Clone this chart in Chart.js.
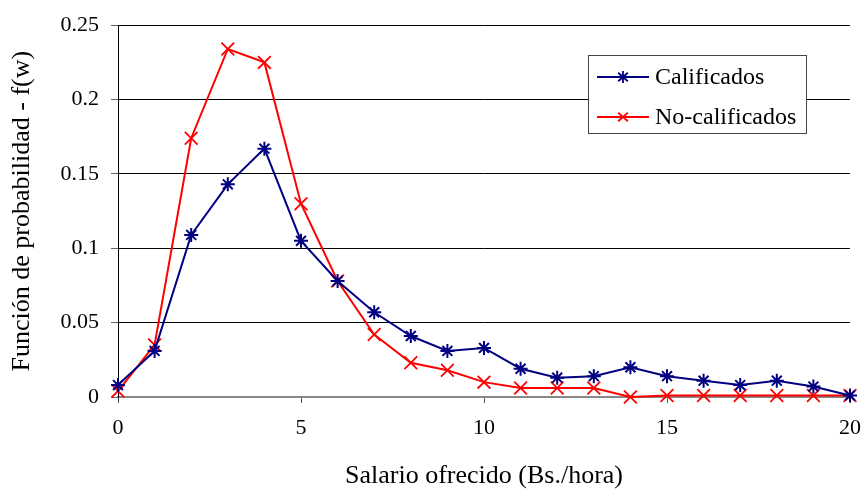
<!DOCTYPE html>
<html>
<head>
<meta charset="utf-8">
<script src="https://cdn.jsdelivr.net/npm/chart.js@4/dist/chart.umd.min.js"></script>
<style>
  html, body { margin: 0; padding: 0; background: #fff; }
  #wrap { width: 864px; height: 489px; }
</style>
</head>
<body>
<div id="wrap"><canvas id="c" width="864" height="489"></canvas></div>
<script>
const salario = [0, 1, 2, 3, 4, 5, 6, 7, 8, 9, 10, 11, 12, 13, 14, 15, 16, 17, 18, 19, 20];
const calificados = [0.008, 0.031, 0.109, 0.143, 0.167, 0.105, 0.078, 0.057, 0.041, 0.031, 0.033, 0.019, 0.013, 0.014, 0.020, 0.014, 0.011, 0.008, 0.011, 0.007, 0.001];
const noCalificados = [0.004, 0.035, 0.174, 0.234, 0.225, 0.130, 0.078, 0.042, 0.023, 0.018, 0.010, 0.006, 0.006, 0.006, 0.000, 0.001, 0.001, 0.001, 0.001, 0.001, 0.001];
const seriesNames = ['Calificados', 'No-calificados'];
const yTicks = [0, 0.05, 0.1, 0.15, 0.2, 0.25];

const serif = "'Liberation Serif', 'Times New Roman', serif";

function toPoints(vals) {
  return salario.map((x, i) => ({ x: x, y: vals[i] }));
}

// keep the plot area (and the gridlines) ending where the x axis ends
const trimArea = {
  id: 'trimArea',
  afterLayout(chart) {
    const xs = chart.scales.x;
    const right = xs.getPixelForValue(xs.max);
    chart.chartArea.right = right;
    chart.chartArea.width = right - chart.chartArea.left;
  }
};

// legend box drawn by hand, like the Excel one
const boxLegend = {
  id: 'boxLegend',
  afterDraw(chart) {
    const ctx = chart.ctx;
    const x = 588, y = 55, w = 218, h = 78;
    ctx.save();
    ctx.fillStyle = '#fff';
    ctx.fillRect(x, y, w, h);
    ctx.strokeStyle = '#444';
    ctx.lineWidth = 1;
    ctx.strokeRect(x + 0.5, y + 0.5, w, h);
    ctx.font = '24px ' + serif;
    ctx.textBaseline = 'middle';
    chart.data.datasets.forEach((ds, i) => {
      const cy = y + 22 + i * 40;
      ctx.strokeStyle = ds.borderColor;
      ctx.lineWidth = 1.8;
      ctx.beginPath();
      ctx.moveTo(x + 9, cy);
      ctx.lineTo(x + 61, cy);
      ctx.stroke();
      const r = 6;
      ctx.beginPath();
      ctx.moveTo(x + 35 - r * 0.8, cy - r * 0.7);
      ctx.lineTo(x + 35 + r * 0.8, cy + r * 0.7);
      ctx.moveTo(x + 35 + r * 0.8, cy - r * 0.7);
      ctx.lineTo(x + 35 - r * 0.8, cy + r * 0.7);
      if (i === 0) {
        ctx.moveTo(x + 35, cy - r);
        ctx.lineTo(x + 35, cy + r);
      }
      ctx.stroke();
      ctx.fillStyle = '#000';
      ctx.fillText(ds.label, x + 67, cy + 1);
    });
    ctx.restore();
  }
};

new Chart(document.getElementById('c'), {
  type: 'line',
  data: {
    datasets: [
      {
        label: seriesNames[0],
        data: toPoints(calificados),
        borderColor: '#000080',
        backgroundColor: '#000080',
        borderWidth: 2,
        pointStyle: 'star',
        pointRadius: 7,
        pointBorderWidth: 2,
        tension: 0,
        clip: false
      },
      {
        label: seriesNames[1],
        data: toPoints(noCalificados),
        borderColor: '#ff0000',
        backgroundColor: '#ff0000',
        borderWidth: 2,
        pointStyle: 'crossRot',
        pointRadius: 9,
        pointBorderWidth: 1.8,
        tension: 0,
        clip: false
      }
    ]
  },
  options: {
    responsive: false,
    animation: false,
    layout: { padding: { top: 21, right: 14, left: 0, bottom: 0 } },
    plugins: {
      legend: { display: false },
      tooltip: { enabled: false }
    },
    scales: {
      x: {
        type: 'linear',
        min: 0,
        max: 20,
        afterFit: s => { s.height = 92; },
        ticks: { stepSize: 5, color: '#000', font: { family: serif, size: 22, lineHeight: 2.0 }, padding: 3, maxRotation: 0 },
        grid: { display: true, drawOnChartArea: false, color: '#555', tickLength: 6 },
        border: { color: '#888', width: 2 },
        title: { display: true, text: 'Salario ofrecido (Bs./hora)', color: '#000', font: { family: serif, size: 26, lineHeight: 1.0 }, padding: { top: 0, bottom: 0 } }
      },
      y: {
        min: 0,
        max: 0.25,
        afterFit: s => { s.width = 118; },
        afterBuildTicks: s => { s.ticks = yTicks.map(v => ({ value: v })); },
        ticks: {
          color: '#000',
          font: { family: serif, size: 22 },
          padding: 12,
          callback: v => String(+v.toFixed(2))
        },
        grid: { color: '#000', lineWidth: 1, tickLength: 7, tickColor: '#666' },
        border: { color: '#000', width: 1 },
        title: { display: true, text: 'Función de probabilidad - f(w)', color: '#000', font: { family: serif, size: 26, lineHeight: 1.0 }, padding: { top: 9, bottom: 0 } }
      }
    }
  },
  plugins: [trimArea, boxLegend]
});
</script>
</body>
</html>
